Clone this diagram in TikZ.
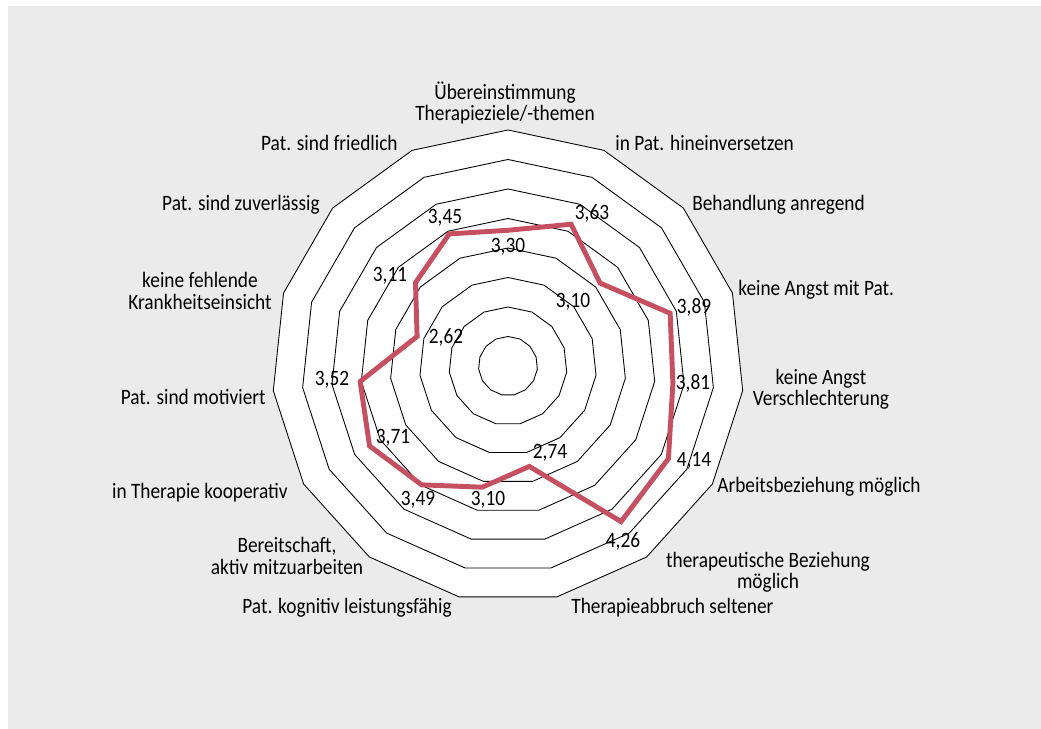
\documentclass[tikz,border=0pt]{standalone}
\usepackage{fontspec}
\setmainfont{Carlito}[FakeStretch=0.88]
\usepackage{xcolor}
\usetikzlibrary{calc}

\definecolor{ChartRed}{RGB}{197,80,97}
\definecolor{PanelGrey}{RGB}{235,235,235}

\tikzset{
    axislabel/.style={font=\fontsize{12.5}{12}\selectfont, inner sep=0pt, align=center},
    valuelabel/.style={font=\fontsize{12.5}{12}\selectfont, inner sep=0pt},
    ring/.style={line width=0.5pt, black},
    profile/.style={line width=2.8pt, ChartRed, line join=miter},
}

\begin{document}
\begin{tikzpicture}[x=0.02cm, y=0.02cm]
        \useasboundingbox (0, 0) rectangle (1041, 729);
        \fill[PanelGrey] (8, 0) rectangle (1041, 723);

        \begin{scope}[shift={(508, 363)}]
            % white face and the eight rings
            \fill[white] (90:236) \foreach \i in {1,...,14} { -- (90+24*\i:236) } -- cycle;

            \foreach \k in {1,...,8} {
                \draw[ring] (90:29.5*\k) \foreach \i in {1,...,14} { -- (90+24*\i:29.5*\k) } -- cycle;
            }

            % mean values, scale 1 (centre) to 5 (outer ring)
            \foreach \v [count=\i from 0] in {3.30, 3.63, 3.10, 3.89, 3.81, 4.14, 4.26, 2.74, 3.10, 3.49, 3.71, 3.52, 2.62, 3.11, 3.45} {
                \coordinate (p\i) at (90-24*\i:{(\v-1)*59});
            }

            \draw[profile] (p0) \foreach \i in {1,...,14} { -- (p\i) } -- cycle;
        \end{scope}

        % value labels
        \node[valuelabel] (v0) at (508, 482) {3,30};
        \node[valuelabel] (v1) at (592, 515) {3,63};
        \node[valuelabel] (v2) at (573, 427) {3,10};
        \node[valuelabel] (v3) at (694, 422) {3,89};
        \node[valuelabel] (v4) at (693, 346) {3,81};
        \node[valuelabel] (v5) at (694, 268) {4,14};
        \node[valuelabel] (v6) at (623, 188) {4,26};
        \node[valuelabel] (v7) at (550, 276) {2,74};
        \node[valuelabel] (v8) at (488, 229) {3,10};
        \node[valuelabel] (v9) at (418, 229) {3,49};
        \node[valuelabel] (v10) at (393, 291) {3,71};
        \node[valuelabel] (v11) at (332, 349) {3,52};
        \node[valuelabel] (v12) at (446, 391) {2,62};
        \node[valuelabel] (v13) at (390, 453) {3,11};
        \node[valuelabel] (v14) at (445, 511) {3,45};

        % axis labels
        \node[axislabel] (t0) at (505, 626) {Übereinstimmung\\Therapieziele/-themen};
        \node[axislabel, anchor=west] (t1) at (615, 586) {in Pat. hineinversetzen};
        \node[axislabel, anchor=west] (t2) at (692, 524) {Behandlung anregend};
        \node[axislabel, anchor=west] (t3) at (738, 439) {keine Angst mit Pat.};
        \node[axislabel] (t4) at (821, 340) {keine Angst\\Verschlechterung};
        \node[axislabel, anchor=west] (t5) at (717, 242) {Arbeitsbeziehung möglich};
        \node[axislabel] (t6) at (768, 157) {therapeutische Beziehung\\möglich};
        \node[axislabel, anchor=west] (t7) at (571, 121) {Therapieabbruch seltener};
        \node[axislabel, anchor=east] (t8) at (452, 121) {Pat. kognitiv leistungsfähig};
        \node[axislabel] (t9) at (287, 173) {Bereitschaft,\\aktiv mitzuarbeiten};
        \node[axislabel, anchor=east] (t10) at (288, 236) {in Therapie kooperativ};
        \node[axislabel, anchor=east] (t11) at (266, 332) {Pat. sind motiviert};
        \node[axislabel] (t12) at (200, 438) {keine fehlende\\Krankheitseinsicht};
        \node[axislabel, anchor=east] (t13) at (320, 524) {Pat. sind zuverlässig};
        \node[axislabel, anchor=east] (t14) at (398, 586) {Pat. sind friedlich};

\end{tikzpicture}
\end{document}
